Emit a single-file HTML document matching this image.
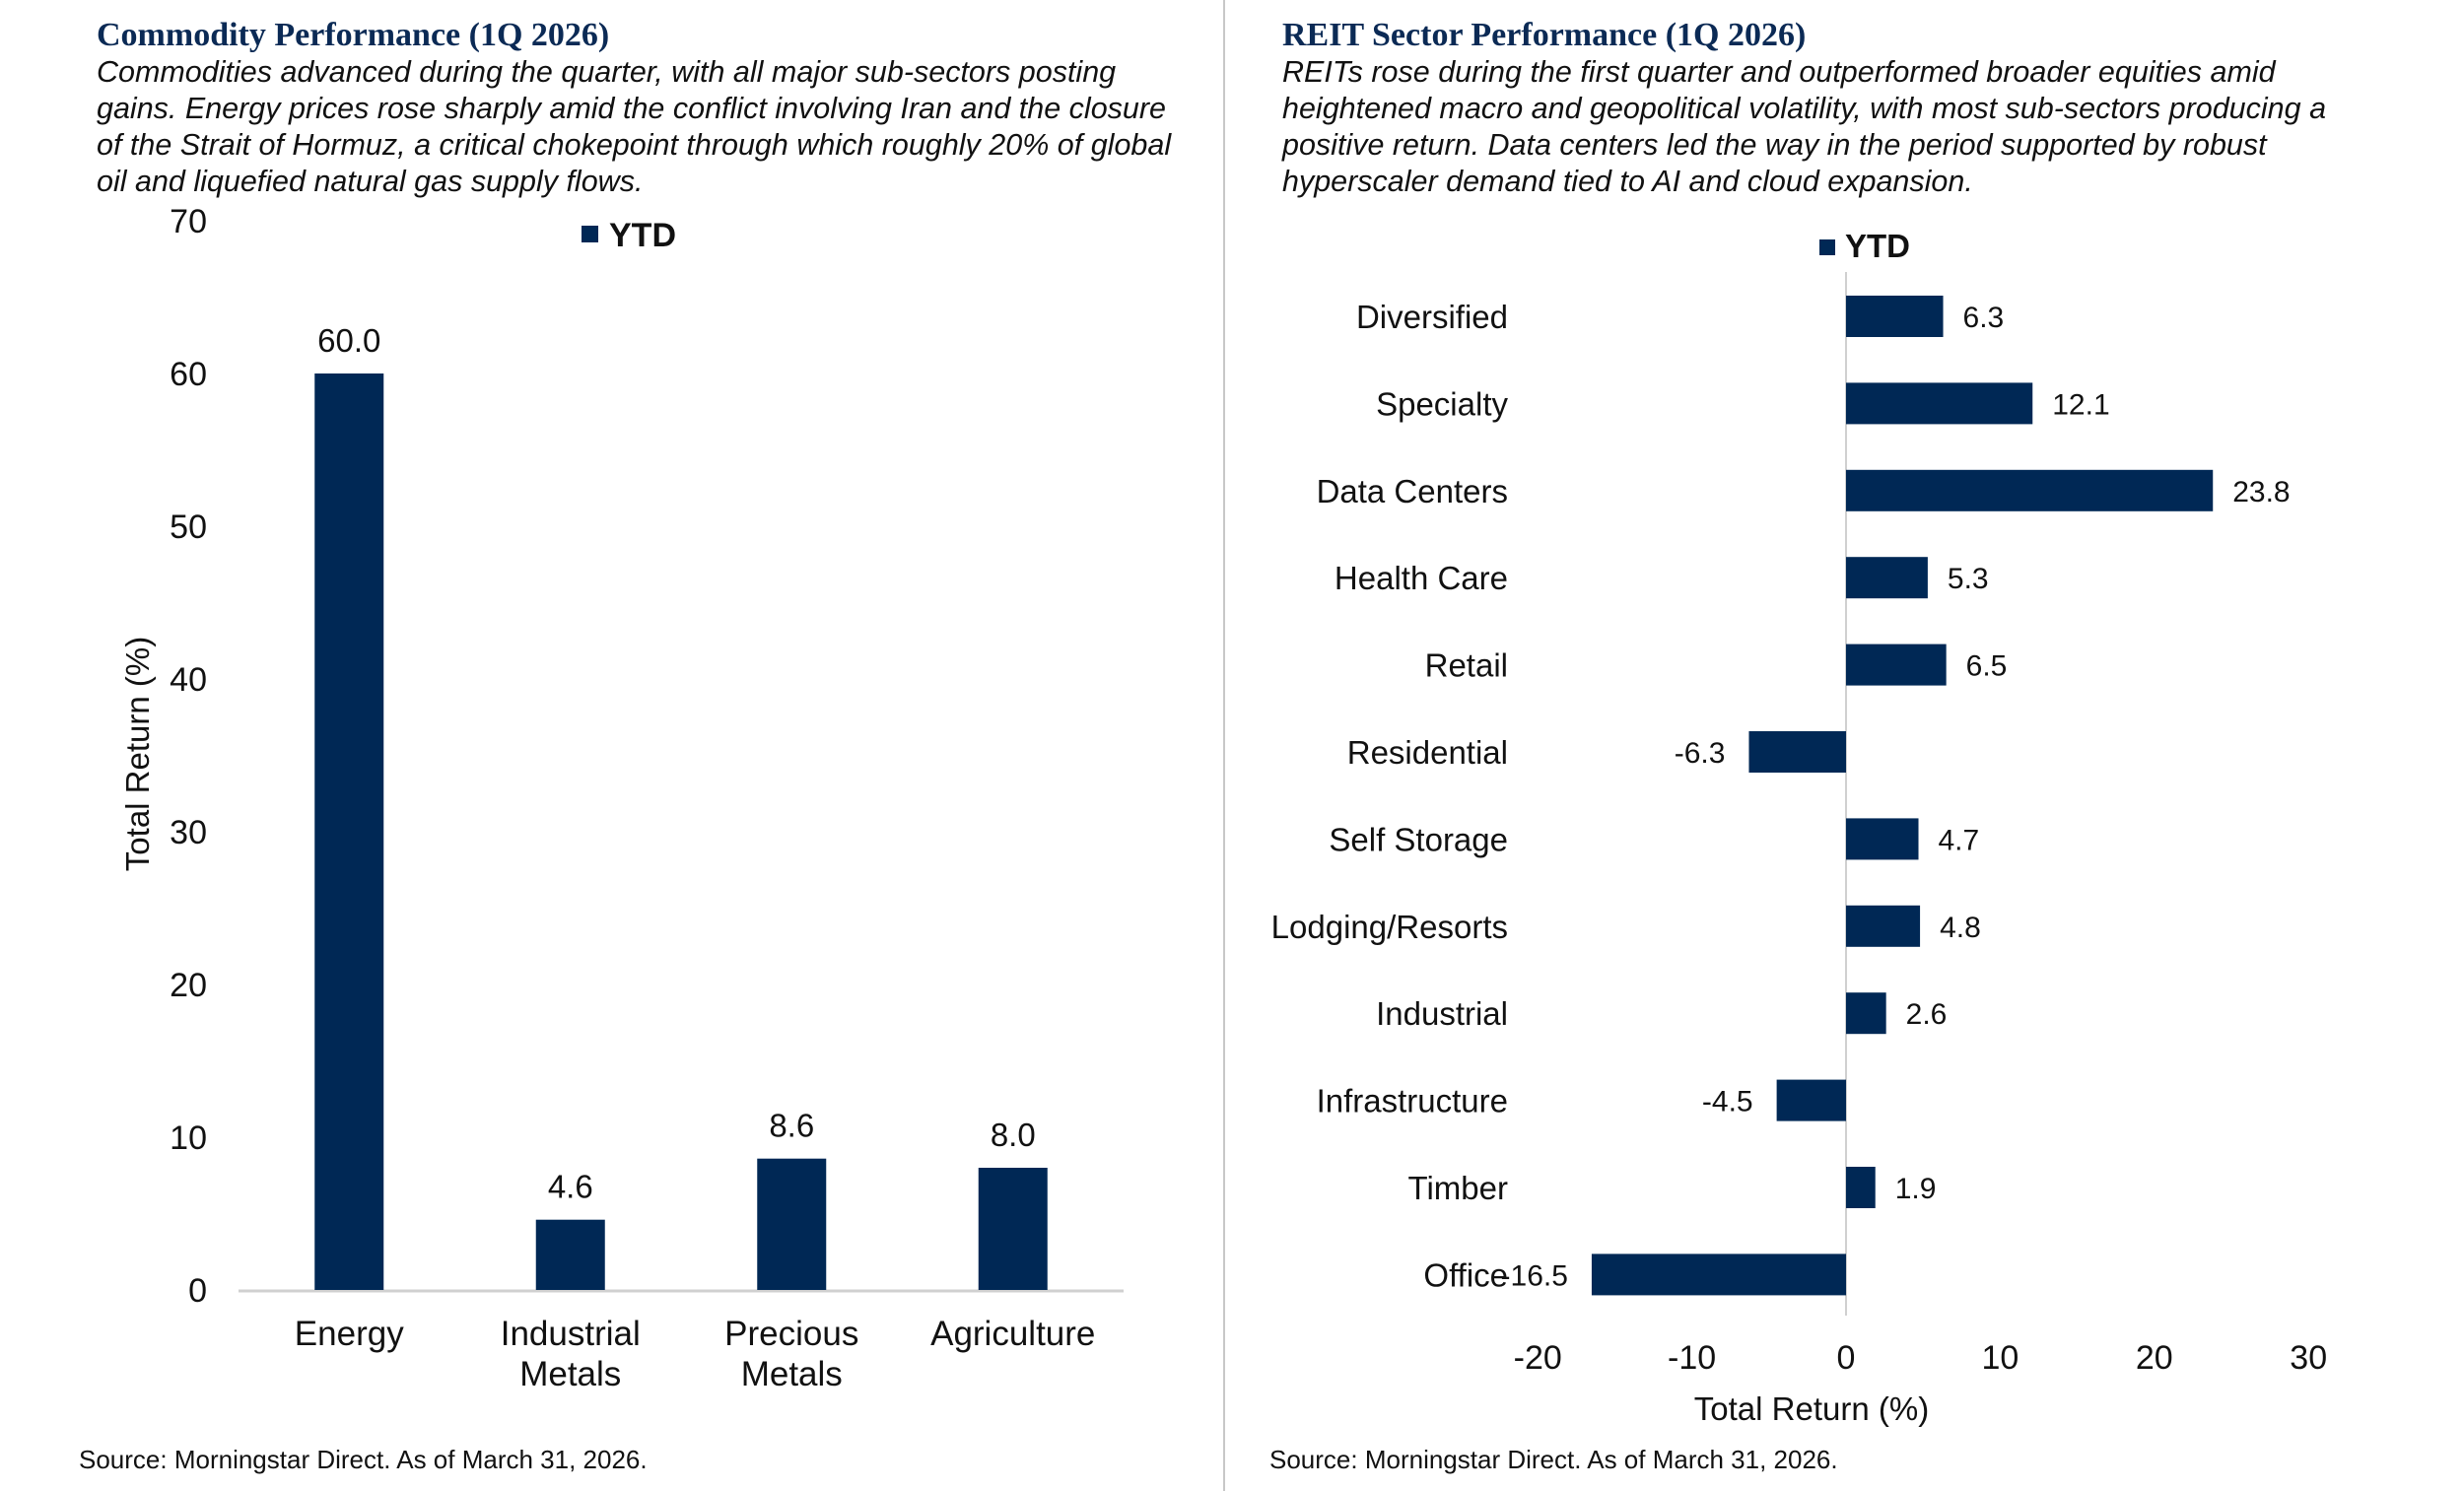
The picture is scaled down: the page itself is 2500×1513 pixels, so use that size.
<!DOCTYPE html>
<html><head><meta charset="utf-8"><style>
body{margin:0;width:2500px;height:1513px;background:#fff;overflow:hidden;font-family:"Liberation Sans",sans-serif}
.t{position:absolute;font-family:"Liberation Serif",serif;font-weight:bold;color:#0b2a55;font-size:34px;line-height:40px}
.s{position:absolute;font-style:italic;font-size:30.5px;line-height:37px;color:#111;white-space:nowrap}
.src{position:absolute;font-size:26px;color:#111;line-height:30px}
</style></head><body>
<div class="t" style="left:98px;top:16px">Commodity Performance (1Q 2026)</div>
<div class="s" style="left:98px;top:55px">Commodities advanced during the quarter, with all major sub-sectors posting<br>gains. Energy prices rose sharply amid the conflict involving Iran and the closure<br>of the Strait of Hormuz, a critical chokepoint through which roughly 20% of global<br>oil and liquefied natural gas supply flows.</div>
<div class="t" style="left:1301px;top:16px">REIT Sector Performance (1Q 2026)</div>
<div class="s" style="left:1301px;top:55px">REITs rose during the first quarter and outperformed broader equities amid<br>heightened macro and geopolitical volatility, with most sub-sectors producing a<br>positive return. Data centers led the way in the period supported by robust<br>hyperscaler demand tied to AI and cloud expansion.</div>
<div class="src" style="left:80px;top:1466px">Source: Morningstar Direct. As of March 31, 2026.</div>
<div class="src" style="left:1288px;top:1466px">Source: Morningstar Direct. As of March 31, 2026.</div>
<div style="position:absolute;left:1241px;top:0;width:2px;height:1513px;background:#c8c8c8"></div>
<svg id="c" width="2500" height="1513" style="position:absolute;left:0;top:0" font-family="Liberation Sans, sans-serif"></svg>
<script>
const comCats=[["Energy"],["Industrial","Metals"],["Precious","Metals"],["Agriculture"]];
const comVals=[60.0,4.6,8.6,8.0];
const comTicks=[0,10,20,30,40,50,60,70];
const reitCats=["Diversified","Specialty","Data Centers","Health Care","Retail","Residential","Self Storage","Lodging/Resorts","Industrial","Infrastructure","Timber","Office"];
const reitVals=[6.3,12.1,23.8,5.3,6.5,-6.3,4.7,4.8,2.6,-4.5,1.9,-16.5];
const reitTicks=[-20,-10,0,10,20,30];
const svg=document.getElementById('c');const NS='http://www.w3.org/2000/svg';
function mk(tag,at,txt){const e=document.createElementNS(NS,tag);for(const k in at)e.setAttribute(k,at[k]);if(txt!==undefined)e.textContent=txt;svg.appendChild(e);return e;}
const NAVY='#002855';
// left chart
const L0=242,L1=1140,Y0=1309,Y70=224;
const ly=v=>Y0+(Y70-Y0)*v/70;
const band=(L1-L0)/comCats.length;
comTicks.forEach(t=>{const e=mk('text',{x:210,y:ly(t)+12,'text-anchor':'end','font-size':34,fill:'#111'},t);

});
let ax=mk('line',{x1:L0,x2:L1,y1:Y0+1,y2:Y0+1,stroke:'#d0d0d0','stroke-width':3});


comVals.forEach((v,i)=>{const cx=L0+band*(i+0.5),w=70;
const r=mk('rect',{x:cx-w/2,y:ly(v),width:w,height:Y0-ly(v),fill:NAVY});


const l=mk('text',{x:cx,y:ly(v)-22,'text-anchor':'middle','font-size':33,fill:'#111'},v.toFixed(1));


comCats[i].forEach((s,j)=>{const c=mk('text',{x:cx,y:1365+j*41,'text-anchor':'middle','font-size':35,fill:'#111'},s);

});});
let yt=mk('text',{x:0,y:0,'text-anchor':'middle','font-size':33,fill:'#111',transform:'translate(151,765) rotate(-90)'},'Total Return (%)');


let lg=mk('rect',{x:590,y:229,width:17,height:17,fill:NAVY});


let lt=mk('text',{x:618,y:250,'font-size':34,'font-weight':'bold',fill:'#111'},'YTD');


// right chart
const Z=1873,U=15.64;const rx=v=>Z+v*U;
const R0=321,RS=88.4;const ry=i=>R0+i*RS;
reitTicks.forEach(t=>{const e=mk('text',{x:rx(t),y:1389,'text-anchor':'middle','font-size':34,fill:'#111'},t);

});
let zl=mk('line',{x1:Z,x2:Z,y1:276,y2:1335,stroke:'#d0d0d0','stroke-width':2});


reitVals.forEach((v,i)=>{const y=ry(i),h=42;const x=Math.min(rx(v),Z),w=Math.abs(rx(v)-Z);
const r=mk('rect',{x:x,y:y-h/2,width:w,height:h,fill:NAVY});


const l=mk('text',{x:v>=0?rx(v)+20:rx(v)-24,y:y+11,'text-anchor':v>=0?'start':'end','font-size':30,fill:'#111'},v.toFixed(1));


const c=mk('text',{x:1530,y:y+12,'text-anchor':'end','font-size':33,fill:'#111'},reitCats[i]);

});
let xt=mk('text',{x:1838,y:1441,'text-anchor':'middle','font-size':33,fill:'#111'},'Total Return (%)');


let lg2=mk('rect',{x:1846,y:243,width:16,height:16,fill:NAVY});


let lt2=mk('text',{x:1872,y:261,'font-size':33,'font-weight':'bold',fill:'#111'},'YTD');


</script>
</body></html>
